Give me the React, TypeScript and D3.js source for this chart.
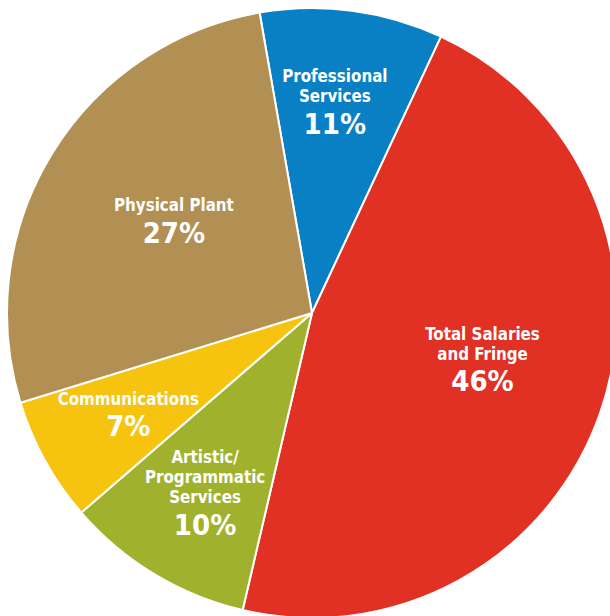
import React from 'react'
import * as d3 from 'd3'

// slice shares
const categories = ['Professional Services', 'Total Salaries and Fringe', 'Artistic/Programmatic Services', 'Communications', 'Physical Plant']
const shares = [9.7, 46.7, 10.0, 6.6, 27.0]
const pctLabels = ['11%', '46%', '10%', '7%', '27%']
const labelLines = [
  ['Professional', 'Services'],
  ['Total Salaries', 'and Fringe'],
  ['Artistic/', 'Programmatic', 'Services'],
  ['Communications'],
  ['Physical Plant']
]

const colors = ['#0a80c4', '#e03124', '#a0b22d', '#f6c30e', '#b28f52']
// label placement: fraction of the radius, and where along the slice's angle
const labelRadius = [0.697, 0.579, 0.685, 0.687, 0.545]
const labelAlong = [0.46, 0.476, 0.49, 0.51, 0.524]

const width = 610
const height = 616
const cx = 312
const cy = 313
const radius = 305
const start = (-9.9 * Math.PI) / 180

const FONT = '"Liberation Sans Narrow", "DejaVu Sans Condensed", "Roboto", sans-serif'

export default function App() {
  const pie = d3
    .pie<number>()
    .sort(null)
    .value((d) => d)
    .startAngle(start)
    .endAngle(start + 2 * Math.PI)
  const arcs = pie(shares)

  const arc = d3.arc<d3.PieArcDatum<number>>().innerRadius(0).outerRadius(radius)

  return (
    <svg
      width={width}
      height={height}
      style={{ position: 'absolute', left: 0, top: 0, background: '#fff' }}
    >
      <g transform={`translate(${cx},${cy})`}>
        {arcs.map((a, i) => (
          <path key={categories[i]} d={arc(a) || ''} fill={colors[i]} stroke="#fff" strokeWidth={2} strokeLinejoin="round" />
        ))}
        {arcs.map((a, i) => {
          const r = radius * labelRadius[i]
          const ang = a.startAngle + labelAlong[i] * (a.endAngle - a.startAngle)
          const x = r * Math.sin(ang)
          const y = -r * Math.cos(ang)
          const lines = labelLines[i]
          const step = 20
          const pctGap = 31.5
          const blockH = 13 + step * (lines.length - 1) + pctGap
          const top = y - blockH / 2
          return (
            <g key={'lbl' + i} fill="#fff" fontFamily={FONT} fontWeight="bold" textAnchor="middle">
              {lines.map((t, j) => (
                <text key={t} x={x} y={top + 13 + step * j} fontSize={16.8}>
                  {t}
                </text>
              ))}
              <text x={x} y={top + 13 + step * (lines.length - 1) + pctGap} fontSize={29}>
                {pctLabels[i]}
              </text>
            </g>
          )
        })}
      </g>
    </svg>
  )
}
